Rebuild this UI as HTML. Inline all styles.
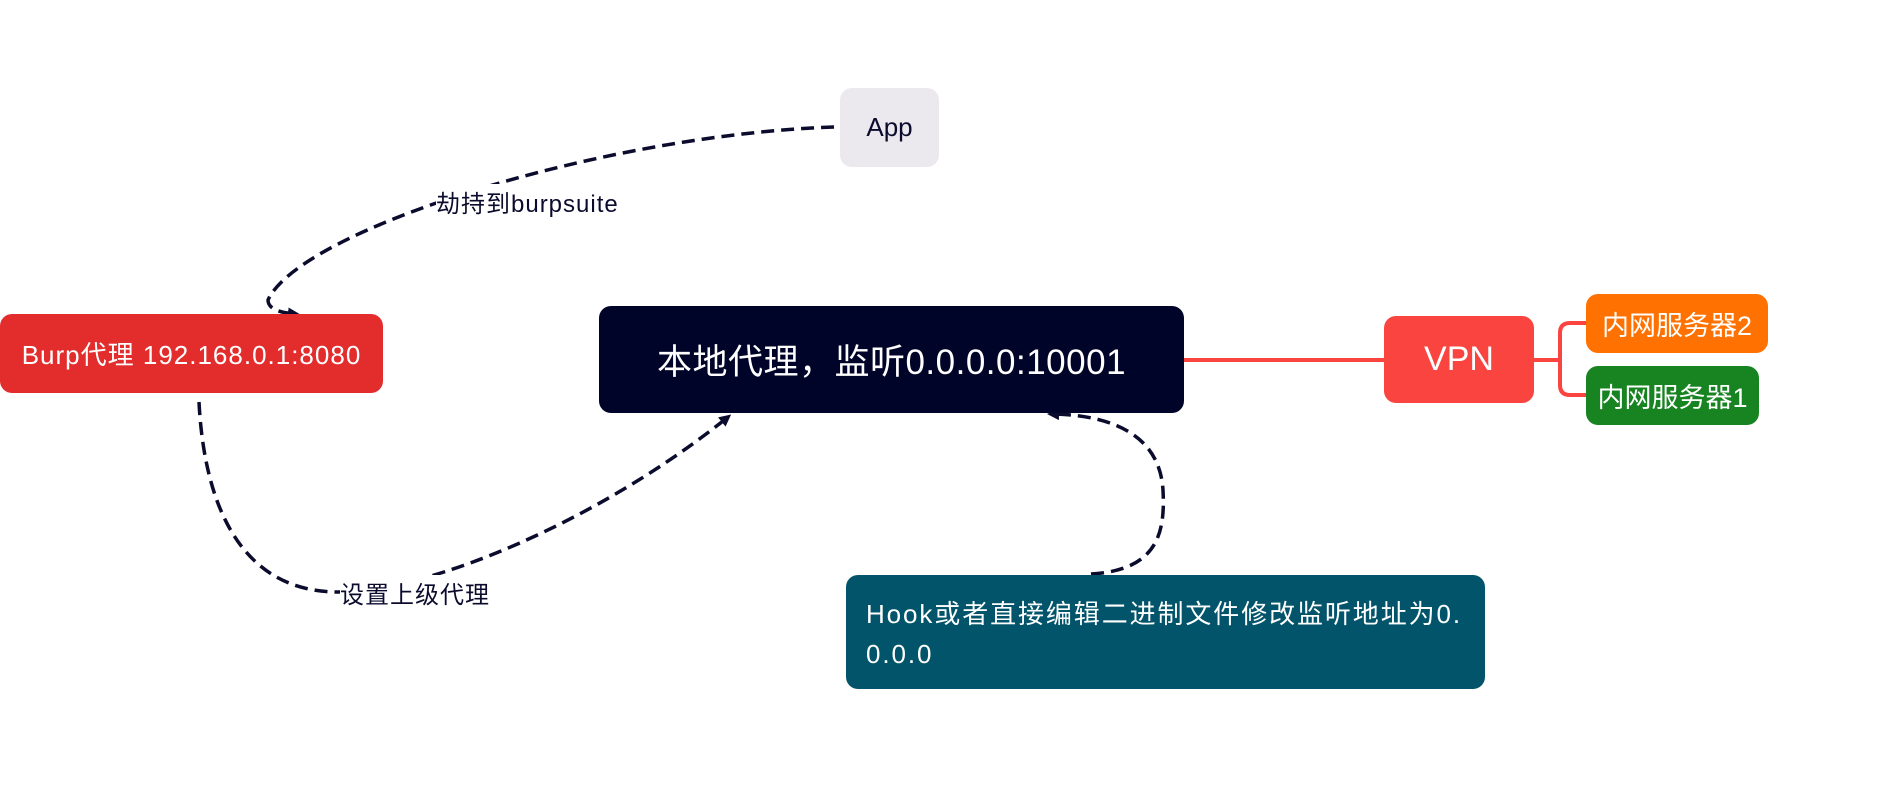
<!DOCTYPE html>
<html><head><meta charset="utf-8"><style>
html,body{margin:0;padding:0;background:#fff;}
body{width:1894px;height:790px;position:relative;overflow:hidden;font-family:"Liberation Sans","Noto Sans CJK SC",sans-serif;}
.b{position:absolute;border-radius:12px;display:flex;align-items:center;justify-content:center;box-sizing:border-box;white-space:nowrap;}
.lbl{position:absolute;background:#fff;font-size:24px;color:#0b0b2e;white-space:nowrap;letter-spacing:1px;}
</style></head><body>
<svg width="1894" height="790" style="position:absolute;left:0;top:0">
<defs><marker id="a" markerWidth="12" markerHeight="12" refX="8" refY="6" orient="auto" markerUnits="userSpaceOnUse"><path d="M0,0 L12,6 L0,12 z" fill="#0b0b2e"/></marker></defs>
<g fill="none" stroke="#0b0b2e" stroke-width="3.5" stroke-dasharray="13 7">
<path d="M834,127 C600,135 300,230 268,300 Q268,312 296,314" marker-end="url(#a)"/>
<path d="M199,402 C205,520 250,592 338,592 C430,592 600,520 728,417" marker-end="url(#a)"/>
<path d="M1091,574 C1160,570 1165,530 1163,490 C1160,440 1120,415 1051,414" marker-end="url(#a)"/>
</g>
<g fill="none" stroke="#f9443f" stroke-width="4">
<path d="M1184,360 L1384,360"/>
<path d="M1534,360 L1560,360"/>
<path d="M1586,323 L1570,323 Q1560,323 1560,333 L1560,385 Q1560,395 1570,395 L1586,395"/>
</g>
</svg>
<div class="b" style="left:840px;top:88px;width:99px;height:79px;background:#ebe9ed;color:#0b0b2e;font-size:26px;">App</div>
<div class="b" style="left:0;top:314px;width:383px;height:79px;background:#e32d2d;color:#fff;font-size:26px;letter-spacing:1px;">Burp代理 192.168.0.1:8080</div>
<div class="b" style="left:599px;top:306px;width:585px;height:107px;background:#000428;color:#fff;font-size:35px;letter-spacing:0.5px;">本地代理，监听0.0.0.0:10001</div>
<div class="b" style="left:1384px;top:316px;width:150px;height:87px;background:#f9443f;color:#fff;font-size:34px;">VPN</div>
<div class="b" style="left:1586px;top:294px;width:182px;height:59px;background:#ff7100;color:#fff;font-size:27px;">内网服务器2</div>
<div class="b" style="left:1586px;top:366px;width:173px;height:59px;background:#188321;color:#fff;font-size:27px;">内网服务器1</div>
<div class="b" style="left:846px;top:575px;width:639px;height:114px;background:#01546a;color:#fff;font-size:26px;display:block;padding:19px 20px 0 20px;line-height:40px;letter-spacing:1.9px;">Hook或者直接编辑二进制文件修改监听地址为0.<br>0.0.0</div>
<div class="lbl" style="left:436px;top:184px;">劫持到burpsuite</div>
<div class="lbl" style="left:340px;top:575px;">设置上级代理</div>
</body></html>
